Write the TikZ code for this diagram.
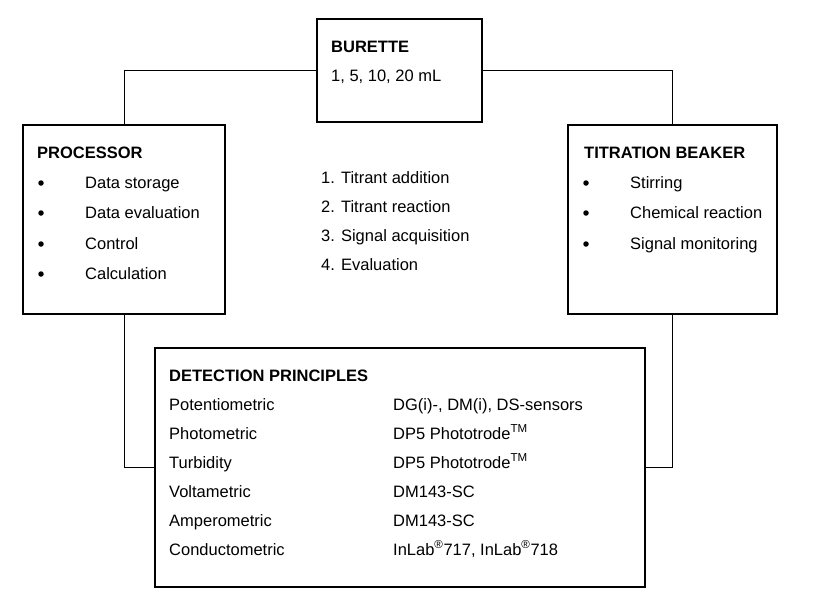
\documentclass[tikz,border=0pt]{standalone}
\usepackage{fontspec}
\setmainfont{Liberation Sans}
\begin{document}
\begin{tikzpicture}[x=1pt,y=-1pt,
  box/.style={draw=black,line width=2pt,inner sep=0pt},
  link/.style={draw=black,line width=1pt},
  dot/.style={circle,fill=black,inner sep=0pt,minimum size=5.5pt},
  txt/.style={anchor=base west,inner sep=0pt,font=\fontsize{16.5}{19}\selectfont},
  hd/.style={txt,font=\fontsize{16.5}{19}\selectfont\bfseries}]
\useasboundingbox (0,0) rectangle (818,603);
% boxes
\node[box,minimum width=165pt,minimum height=103pt] (bur) at (399.5,70.5) {};
\node[box,minimum width=202pt,minimum height=189pt] (proc) at (124,219.5) {};
\node[box,minimum width=209pt,minimum height=189pt] (beak) at (672.5,219.5) {};
\node[box,minimum width=490pt,minimum height=239pt] (det) at (400,467.5) {};
% connectors
\draw[link] (bur.west) -| (proc.north);
\draw[link] (bur.east) -| (beak.north);
\draw[link] (proc.south) |- (det.west);
\draw[link] (beak.south) |- (det.east);
% burette
\node[hd] (t1) at (331,52) {BURETTE};
\node[txt] (t2) at (331,81) {1, 5, 10, 20 mL};
% processor
\node[hd] (p0) at (37,158) {PROCESSOR};
\node[dot] (pb1) at (41,183) {};
\node[dot] (pb2) at (41,213) {};
\node[dot] (pb3) at (41,244) {};
\node[dot] (pb4) at (41,274) {};
\node[txt] (p1) at (85,188) {Data storage};
\node[txt] (p2) at (85,218) {Data evaluation};
\node[txt] (p3) at (85,249) {Control};
\node[txt] (p4) at (85,279) {Calculation};
% beaker
\node[hd] (b0) at (584,158) {TITRATION BEAKER};
\node[dot] (bb1) at (586,183) {};
\node[dot] (bb2) at (586,213) {};
\node[dot] (bb3) at (586,244) {};
\node[txt] (b1) at (630,188) {Stirring};
\node[txt] (b2) at (630,218) {Chemical reaction};
\node[txt] (b3) at (630,249) {Signal monitoring};
% centre list
\node[txt] (c1) at (321,183) {1. Titrant addition};
\node[txt] (c2) at (321,212) {2. Titrant reaction};
\node[txt] (c3) at (321,241) {3. Signal acquisition};
\node[txt] (c4) at (321,270) {4. Evaluation};
% detection
\node[hd] (d0) at (169,381) {DETECTION PRINCIPLES};
\node[txt] (dl1) at (169,410) {Potentiometric};
\node[txt] (dl2) at (169,439) {Photometric};
\node[txt] (dl3) at (169,468) {Turbidity};
\node[txt] (dl4) at (169,497) {Voltametric};
\node[txt] (dl5) at (169,526) {Amperometric};
\node[txt] (dl6) at (169,555) {Conductometric};
\node[txt] (dr1) at (393,410) {DG(i)-, DM(i), DS-sensors};
\node[txt] (dr2) at (393,439) {DP5 Phototrode\textsuperscript{TM}};
\node[txt] (dr3) at (393,468) {DP5 Phototrode\textsuperscript{TM}};
\node[txt] (dr4) at (393,497) {DM143-SC};
\node[txt] (dr5) at (393,526) {DM143-SC};
\node[txt] (dr6) at (393,555) {InLab\textsuperscript{®}717, InLab\textsuperscript{®}718};
\end{tikzpicture}
\end{document}
